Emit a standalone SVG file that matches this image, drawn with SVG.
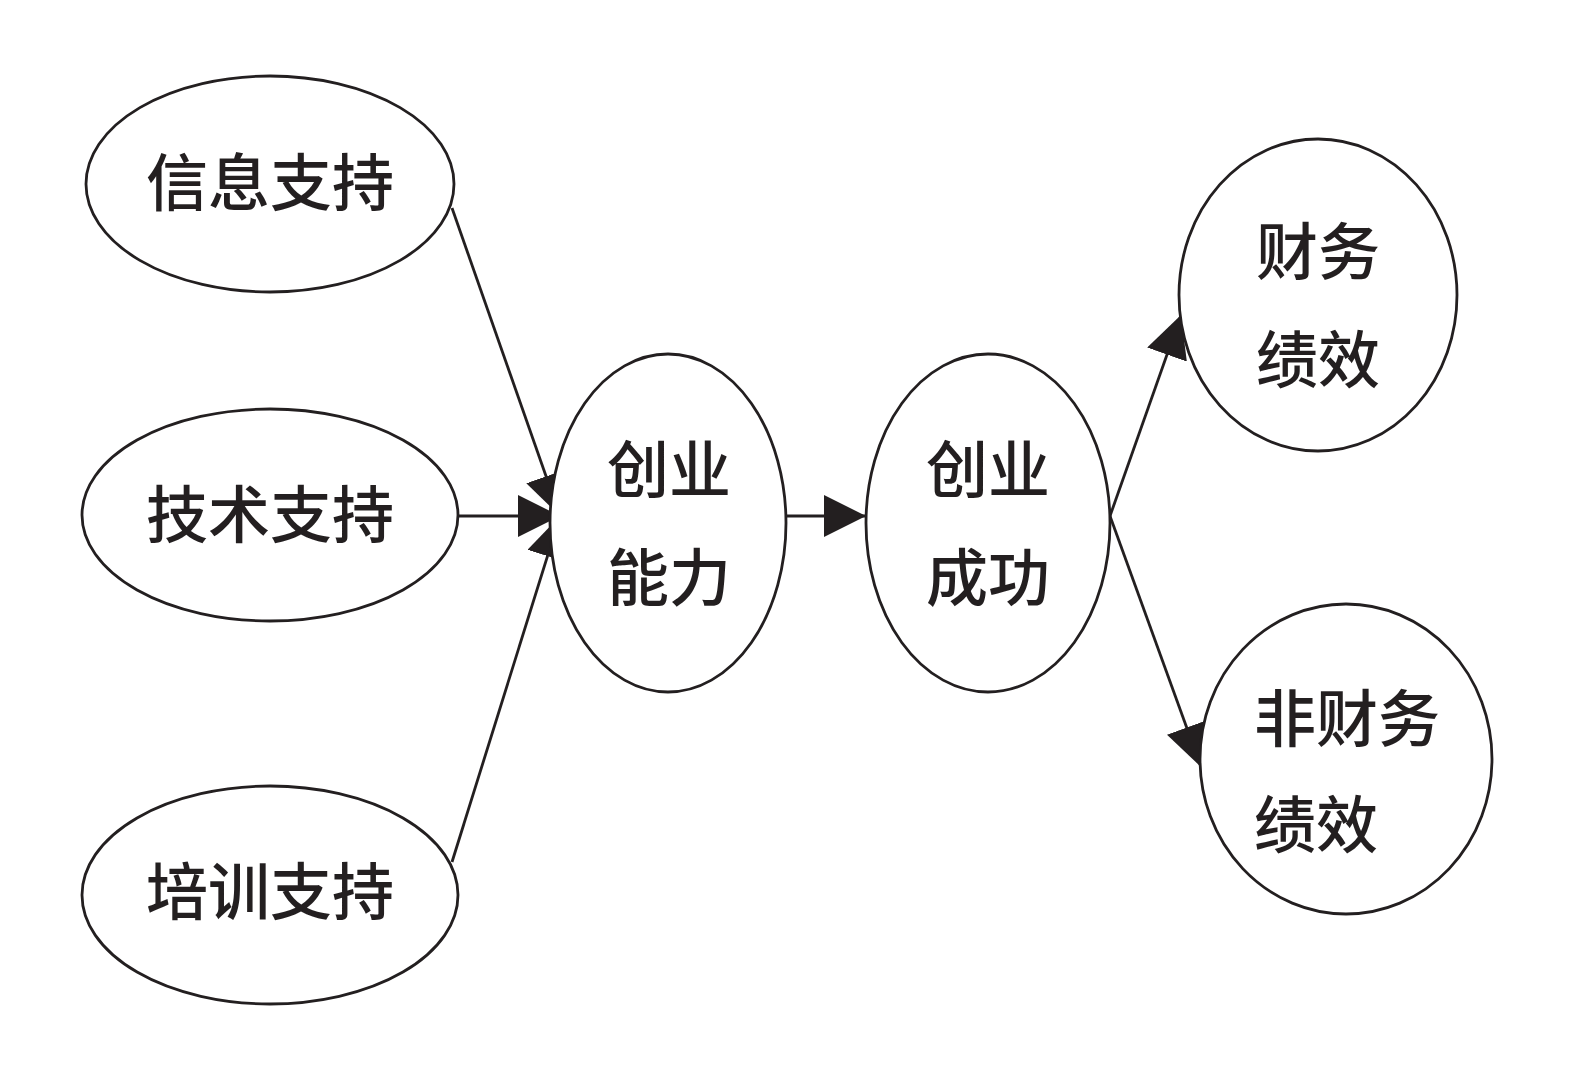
<svg xmlns="http://www.w3.org/2000/svg" width="1575" height="1083" viewBox="0 0 1575 1083">
<style>
.n{fill:#fff;stroke:#231f20;stroke-width:2.8}
.t{font-family:"Noto Sans CJK SC","Noto Sans CJK JP",sans-serif;font-size:62px;font-weight:500;fill:#231f20}
.m{text-anchor:middle}
.c{stroke:#231f20;stroke-width:2.8;fill:none}
</style>
<defs>
<marker id="ah" markerUnits="userSpaceOnUse" viewBox="0 0 42 42" refX="42" refY="21" markerWidth="42" markerHeight="42" orient="auto">
<path d="M0,0 L42,21 L0,42 z" fill="#231f20"/>
</marker>
</defs>
<rect width="1575" height="1083" fill="#fff"/>
<g id="connectors">
<line class="c" x1="452" y1="208" x2="560" y2="516" marker-end="url(#ah)"/>
<line class="c" x1="458" y1="516" x2="560" y2="516" marker-end="url(#ah)"/>
<line class="c" x1="452" y1="862" x2="560" y2="516" marker-end="url(#ah)"/>
<line class="c" x1="787" y1="516" x2="866" y2="516" marker-end="url(#ah)"/>
<line class="c" x1="1110" y1="516" x2="1181" y2="315" marker-end="url(#ah)"/>
<line class="c" x1="1110" y1="516" x2="1201" y2="767" marker-end="url(#ah)"/>
</g>
<g id="n1"><ellipse class="n" cx="270" cy="184" rx="184" ry="108"/><text class="t m" x="270" y="206">信息支持</text></g>
<g id="n2"><ellipse class="n" cx="270" cy="515" rx="188" ry="106"/><text class="t m" x="270" y="538">技术支持</text></g>
<g id="n3"><ellipse class="n" cx="270" cy="895" rx="188" ry="109"/><text class="t m" x="270" y="915">培训支持</text></g>
<g id="n4"><ellipse class="n" cx="668" cy="523" rx="118" ry="169"/><text class="t m" x="669" y="493">创业</text><text class="t m" x="669" y="601">能力</text></g>
<g id="n5"><ellipse class="n" cx="988" cy="523" rx="122" ry="169"/><text class="t m" x="988" y="493">创业</text><text class="t m" x="988" y="601">成功</text></g>
<g id="n6"><ellipse class="n" cx="1318" cy="295" rx="139" ry="156"/><text class="t m" x="1318" y="275">财务</text><text class="t m" x="1318" y="383">绩效</text></g>
<g id="n7"><ellipse class="n" cx="1346" cy="759" rx="146" ry="155"/><text class="t" x="1254" y="742">非财务</text><text class="t" x="1254" y="848">绩效</text></g>
</svg>
